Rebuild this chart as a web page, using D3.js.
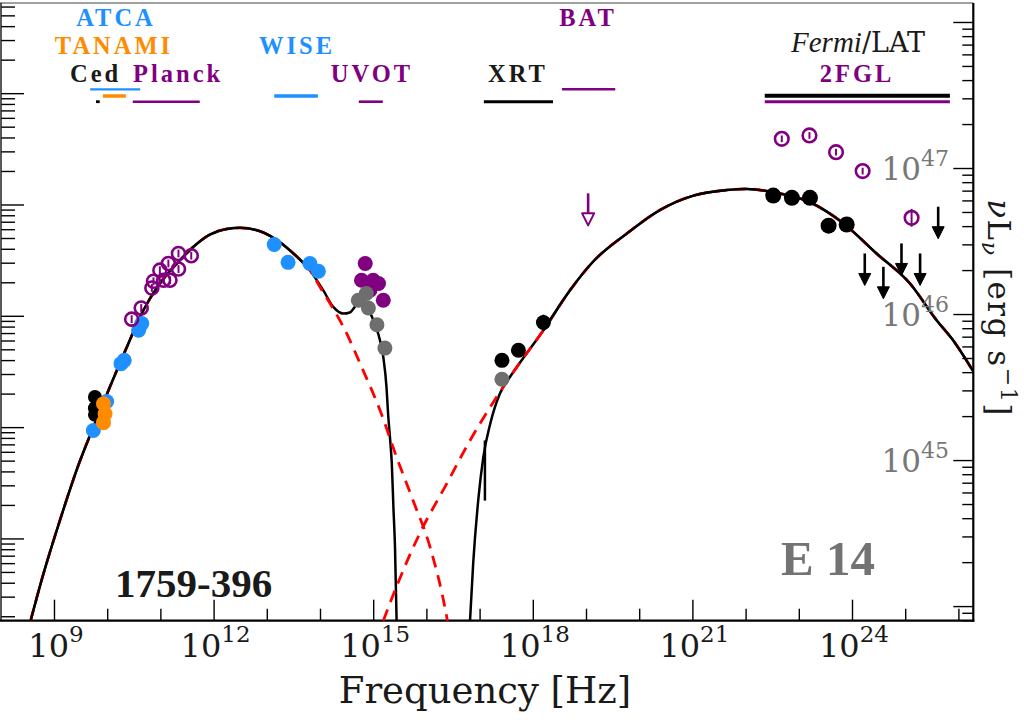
<!DOCTYPE html>
<html>
<head>
<meta charset="utf-8">
<script src="https://cdn.jsdelivr.net/npm/d3@7"></script>
<style>
  body { margin: 0; background: #fff; }
  svg { display: block; }
</style>
</head>
<body>
<svg id="chart" width="1024" height="722"></svg>
<script>
// all values are log10: frequency in Hz, nuFnu in erg cm^-2 s^-1

// instrument bands shown at the top
const bandNames = ['ATCA', 'TANAMI', 'Ced', 'Planck', 'WISE', 'UVOT', 'XRT', 'BAT', 'Fermi', '2FGL'];
const bandLo = [9.68, 9.92, 9.79, 10.48, 13.14, 14.73, 17.08, 18.55, 22.36, 22.36];
const bandHi = [10.62, 10.35, 9.86, 11.74, 13.96, 15.18, 18.38, 19.55, 25.84, 25.84];

// measurements
const atcaNu = [9.74, 9.99, 10.26, 10.32, 10.59, 10.65];
const atcaF = [-13.03, -12.77, -12.43, -12.40, -12.13, -12.07];
const tanamiNu = [9.93, 9.96, 9.93];
const tanamiF = [-12.79, -12.88, -12.96];
const cedNu = [9.77, 9.77, 9.77];
const cedF = [-12.73, -12.83, -12.89];
const planckNu = [10.46, 10.64, 10.84, 10.87, 10.99, 11.06, 11.18, 11.15, 11.34, 11.34, 11.58];
const planckF = [-12.03, -11.93, -11.75, -11.69, -11.59, -11.68, -11.68, -11.53, -11.58, -11.44, -11.46];
const wiseNu = [13.14, 13.40, 13.81, 13.97];
const wiseF = [-11.36, -11.52, -11.53, -11.60];
const uvotNu = [14.85, 14.78, 15.00, 15.10, 14.94, 15.19];
const uvotF = [-11.53, -11.68, -11.68, -11.71, -11.77, -11.86];
const uvotHostNu = [14.72, 14.87, 14.91, 15.07, 15.22];
const uvotHostF = [-11.86, -11.80, -11.93, -12.08, -12.29];
const xrtNu = [17.42, 17.73, 18.20];
const xrtF = [-12.40, -12.31, -12.06];
const xrtErr = [0.03, 0.03, 0.07];
const xrtHostNu = [17.42];
const xrtHostF = [-12.57];
const batUlNu = [19.04];
const batUlF = [-10.90];
const latNu = [22.52, 22.87, 23.21, 23.56, 23.90];
const latF = [-10.92, -10.94, -10.94, -11.19, -11.18];
const latErr = [0.04, 0.04, 0.04, 0.04, 0.04];
const latUlNu = [24.24, 24.59, 24.93, 25.28, 25.62];
const latUlF = [-11.44, -11.56, -11.35, -11.44, -11.02];
const fglNu = [22.68, 23.20, 23.70, 24.20, 25.12];
const fglF = [-10.41, -10.38, -10.53, -10.70, -11.12];
const fglErr = [0.03, 0.03, 0.03, 0.03, 0.08];
const planckErr = 0.035;

// model curves
const syncNu = [8.56, 8.77, 9.11, 9.46, 9.74, 10.05, 10.37, 10.68, 10.99, 11.31, 11.62, 11.93, 12.25, 12.50,
  12.87, 13.19, 13.50, 13.81, 14.06, 14.19, 14.44, 14.81, 15.13, 15.44, 15.75, 16.07, 16.38, 16.41];
const syncF = [-14.74, -14.37, -13.84, -13.34, -13.00, -12.64, -12.28, -11.95, -11.71, -11.53, -11.38, -11.27, -11.22, -11.21,
  -11.24, -11.32, -11.44, -11.59, -11.79, -11.89, -12.10, -12.49, -12.85, -13.27, -13.66, -14.08, -14.70, -14.78];
const lowTotNu = [8.56, 8.77, 9.11, 9.46, 9.74, 10.05, 10.37, 10.68, 10.99, 11.31, 11.62, 11.93, 12.25, 12.50,
  12.87, 13.19, 13.50, 13.81, 14.06, 14.25, 14.44, 14.56, 14.69, 14.79, 14.94, 15.10, 15.19, 15.25, 15.28, 15.32, 15.35, 15.38, 15.41, 15.44];
const lowTotF = [-14.74, -14.37, -13.84, -13.34, -13.00, -12.64, -12.28, -11.95, -11.71, -11.53, -11.38, -11.27, -11.22, -11.21,
  -11.24, -11.32, -11.44, -11.59, -11.77, -11.92, -11.98, -11.97, -11.90, -11.87, -11.97, -12.17, -12.37, -12.64, -12.88, -13.12, -13.33, -13.72, -14.08, -14.74];
const icNu = [15.19, 15.44, 15.88, 16.38, 16.82, 17.32, 17.70, 18.20, 18.70, 19.14, 19.77, 20.39, 21.02, 21.65,
  22.02, 22.52, 23.21, 23.84, 24.46, 25.09, 25.59, 25.90, 26.28];
const icF = [-14.74, -14.43, -13.95, -13.51, -13.12, -12.73, -12.46, -12.13, -11.77, -11.51, -11.26, -11.05, -10.92, -10.87,
  -10.86, -10.89, -10.98, -11.17, -11.44, -11.71, -12.04, -12.22, -12.50];
const highRiseNu = [16.82, 16.88, 16.98, 17.07, 17.20, 17.38, 17.57, 17.76];
const highRiseF = [-14.74, -14.22, -13.63, -13.27, -12.97, -12.70, -12.55, -12.42];
const stubNu = [17.10, 17.10];
const stubF = [-13.12, -13.66];

// luminosity axis labels (right side) and frequency labels
const lumLabels = [45, 46, 47];
const freqLabels = [9, 12, 15, 18, 21, 24];

// ---------- drawing ----------
// the upright regular Liberation Serif face is missing here, so plain text uses DejaVu Serif
const BOLD = 'Liberation Serif';
const REG = 'DejaVu Serif';
const BLUE = '#1e90ff', ORANGE = '#ff8c00', PURPLE = '#800080', GREY = '#6e6e6e', RED = '#ff0000', INK = '#1a1a1a';
const plot = { left: 1, right: 973.3, top: 3, bottom: 620.7 };
const svg = d3.select('#chart');

const x = d3.scaleLog().domain([Math.pow(10, 8.004), Math.pow(10, 26.28)]).range([plot.left, plot.right]);
const y = d3.scaleLog().domain([Math.pow(10, -14.739), Math.pow(10, -9.19)]).range([plot.bottom, plot.top]);
const yL = d3.scaleLog().domain([Math.pow(10, 43.9), Math.pow(10, 48.13)]).range([plot.bottom, plot.top]);
const X = v => x(Math.pow(10, v));
const Y = v => y(Math.pow(10, v));
const pairs = (a, b) => a.map((v, i) => [v, b[i]]);
const isDecade = v => Math.abs(Math.log10(v) - Math.round(Math.log10(v))) < 1e-6;

svg.append('defs').append('clipPath').attr('id', 'clip')
  .append('rect').attr('x', plot.left).attr('y', plot.top)
  .attr('width', plot.right - plot.left).attr('height', plot.bottom - plot.top);

// ticks
const tickGroup = (axis, tx, ty) => {
  const g = svg.append('g').attr('transform', `translate(${tx},${ty})`).call(axis);
  g.select('.domain').remove();
  g.selectAll('line').attr('stroke', '#000').attr('stroke-width', 1.4);
  g.selectAll('text').remove();
  return g;
};
const decades = d3.range(9, 27).map(p => Math.pow(10, p));
tickGroup(d3.axisTop(x).tickValues(decades.filter((d, i) => (i % 3) === 0)).tickSize(21).tickFormat(''), 0, plot.bottom);
tickGroup(d3.axisTop(x).tickValues(decades.filter((d, i) => (i % 3) !== 0)).tickSize(12).tickFormat(''), 0, plot.bottom);

const fTicks = y.ticks(60);
tickGroup(d3.axisRight(y).tickValues(fTicks.filter(isDecade)).tickSize(23).tickFormat(''), plot.left, 0);
tickGroup(d3.axisRight(y).tickValues(fTicks.filter(v => !isDecade(v))).tickSize(14).tickFormat(''), plot.left, 0);

const lTicks = yL.ticks(60);
tickGroup(d3.axisLeft(yL).tickValues(lTicks.filter(isDecade)).tickSize(20).tickFormat(''), plot.right, 0);
tickGroup(d3.axisLeft(yL).tickValues(lTicks.filter(v => !isDecade(v))).tickSize(11).tickFormat(''), plot.right, 0);

// frame
svg.append('line').attr('x1', 0).attr('x2', plot.right).attr('y1', plot.top).attr('y2', plot.top)
  .attr('stroke', '#444').attr('stroke-width', 1.2);
svg.append('line').attr('x1', plot.left).attr('x2', plot.left).attr('y1', plot.top).attr('y2', plot.bottom)
  .attr('stroke', '#222').attr('stroke-width', 1.5);
svg.append('line').attr('x1', 0).attr('x2', plot.right + 1).attr('y1', plot.bottom).attr('y2', plot.bottom)
  .attr('stroke', '#000').attr('stroke-width', 2.2);
svg.append('line').attr('x1', plot.right).attr('x2', plot.right).attr('y1', plot.top).attr('y2', plot.bottom + 1)
  .attr('stroke', '#000').attr('stroke-width', 2.2);

// model curves
const line = d3.line().x(d => X(d[0])).y(d => Y(d[1])).curve(d3.curveMonotoneX);
const curves = svg.append('g').attr('clip-path', 'url(#clip)');
const highTot = pairs(highRiseNu, highRiseF).concat(pairs(icNu, icF).filter(d => d[0] > 18));
[pairs(lowTotNu, lowTotF), highTot, pairs(stubNu, stubF)].forEach(pts => {
  curves.append('path').attr('d', line(pts)).attr('fill', 'none')
    .attr('stroke', '#000').attr('stroke-width', 2.5);
});
[pairs(syncNu, syncF), pairs(icNu, icF)].forEach(pts => {
  curves.append('path').attr('d', line(pts)).attr('fill', 'none')
    .attr('stroke', RED).attr('stroke-width', 2.8).attr('stroke-dasharray', '12,8');
});
// black drawn again where the components coincide with the total
curves.append('path').attr('d', line(pairs(lowTotNu, lowTotF).filter(d => d[0] < 13.9)))
  .attr('fill', 'none').attr('stroke', '#000').attr('stroke-width', 2.3);
curves.append('path').attr('d', line(pairs(icNu, icF).filter(d => d[0] > 18.1)))
  .attr('fill', 'none').attr('stroke', '#000').attr('stroke-width', 2.3);

// data points
const marks = svg.append('g');
const errBars = (nu, f, err, color, w) => {
  marks.selectAll(null).data(pairs(nu, f).map((d, i) => [d[0], d[1], Array.isArray(err) ? err[i] : err]))
    .join('line')
    .attr('x1', d => X(d[0])).attr('x2', d => X(d[0]))
    .attr('y1', d => Y(d[1] - d[2])).attr('y2', d => Y(d[1] + d[2]))
    .attr('stroke', color).attr('stroke-width', w);
};
const filled = (nu, f, color, r) => {
  marks.selectAll(null).data(pairs(nu, f)).join('circle')
    .attr('cx', d => X(d[0])).attr('cy', d => Y(d[1])).attr('r', r).attr('fill', color);
};
const open = (nu, f, err, color, r) => {
  marks.selectAll(null).data(pairs(nu, f)).join('circle')
    .attr('cx', d => X(d[0])).attr('cy', d => Y(d[1])).attr('r', r)
    .attr('fill', 'none').attr('stroke', color).attr('stroke-width', 2.6);
  errBars(nu, f, err, color, 2);
};
const upper = (nu, f, color, hollow) => {
  const len = 32, hw = 6, hh = 12;
  const g = marks.selectAll(null).data(pairs(nu, f)).join('g')
    .attr('transform', d => `translate(${X(d[0])},${Y(d[1])})`);
  g.append('line').attr('x1', 0).attr('x2', 0).attr('y1', 0).attr('y2', len - hh + 1)
    .attr('stroke', color).attr('stroke-width', 2.6);
  g.append('path').attr('d', `M${-hw},${len - hh}L${hw},${len - hh}L0,${len}Z`)
    .attr('fill', hollow ? '#fff' : color).attr('stroke', color)
    .attr('stroke-width', hollow ? 2 : 1).attr('stroke-linejoin', 'round');
};

filled(atcaNu, atcaF, BLUE, 7.5);
filled(cedNu, cedF, '#000', 7);
filled(tanamiNu, tanamiF, ORANGE, 7.5);
open(planckNu, planckF, planckErr, PURPLE, 6.5);
filled(wiseNu, wiseF, BLUE, 7.5);
filled(uvotNu, uvotF, PURPLE, 7.5);
filled(uvotHostNu, uvotHostF, GREY, 7.5);
errBars(xrtNu, xrtF, xrtErr, '#000', 2);
filled(xrtNu, xrtF, '#000', 7.5);
filled(xrtHostNu, xrtHostF, GREY, 7.5);
upper(batUlNu, batUlF, PURPLE, true);
errBars(latNu, latF, latErr, '#000', 2);
filled(latNu, latF, '#000', 8);
upper(latUlNu, latUlF, '#000', false);
open(fglNu, fglF, fglErr, PURPLE, 6.8);

// instrument bands and names
const bandStyle = {
  ATCA: { row: 89.3, c: BLUE, w: 2.2 }, TANAMI: { row: 96, c: ORANGE, w: 3.5 },
  Ced: { row: 101.7, c: '#000', w: 2.8 }, Planck: { row: 101.7, c: PURPLE, w: 2.6 },
  WISE: { row: 96, c: BLUE, w: 3.5 }, UVOT: { row: 101.7, c: PURPLE, w: 2.6 },
  XRT: { row: 101.7, c: '#000', w: 3 }, BAT: { row: 89.3, c: PURPLE, w: 2.6 },
  Fermi: { row: 95.7, c: '#000', w: 4 }, '2FGL': { row: 101.7, c: PURPLE, w: 3 }
};
svg.append('g').selectAll('line').data(bandNames).join('line')
  .attr('x1', (d, i) => X(bandLo[i])).attr('x2', (d, i) => X(bandHi[i]))
  .attr('y1', d => bandStyle[d].row).attr('y2', d => bandStyle[d].row)
  .attr('stroke', d => bandStyle[d].c).attr('stroke-width', d => bandStyle[d].w);

const nameLayout = [
  { t: 'ATCA', x: 116, y: 26, c: BLUE, a: 'middle' },
  { t: 'TANAMI', x: 114, y: 54, c: ORANGE, a: 'middle' },
  { t: 'WISE', x: 297, y: 54, c: BLUE, a: 'middle' },
  { t: 'Ced', x: 70, y: 81.5, c: INK, a: 'start' },
  { t: 'Planck', x: 133, y: 81.5, c: PURPLE, a: 'start' },
  { t: 'UVOT', x: 372, y: 81.5, c: PURPLE, a: 'middle' },
  { t: 'XRT', x: 518, y: 81.5, c: INK, a: 'middle' },
  { t: 'BAT', x: 588, y: 26, c: PURPLE, a: 'middle' },
  { t: '2FGL', x: 857, y: 81.5, c: PURPLE, a: 'middle' }
];
svg.append('g').selectAll('text').data(nameLayout).join('text')
  .attr('x', d => d.x).attr('y', d => d.y).attr('text-anchor', d => d.a)
  .attr('font-family', BOLD).attr('fill', d => d.c).attr('font-size', 24.5).attr('font-weight', 'bold')
  .attr('letter-spacing', 3).text(d => d.t);
const fermi = svg.append('text').attr('x', 858).attr('y', 52).attr('text-anchor', 'middle')
  .attr('fill', INK).attr('font-size', 27);
fermi.append('tspan').attr('font-family', BOLD).attr('font-style', 'italic').attr('font-size', 29).text('Fermi');
fermi.append('tspan').attr('font-family', REG).text('/LAT');

// tick labels
const fl = svg.append('g').selectAll('text').data(freqLabels).join('text')
  .attr('x', d => X(d) + 2).attr('y', 657).attr('text-anchor', 'middle')
  .attr('font-family', REG).attr('fill', INK);
fl.append('tspan').attr('font-size', 32).text('10');
fl.append('tspan').attr('font-size', 23).attr('dy', -15).text(d => d);

const ll = svg.append('g').selectAll('text').data(lumLabels).join('text')
  .attr('x', 949).attr('y', d => yL(Math.pow(10, d)) + 12).attr('text-anchor', 'end')
  .attr('font-family', REG).attr('fill', '#777');
ll.append('tspan').attr('font-size', 31).text('10');
ll.append('tspan').attr('font-size', 22).attr('dy', -14).text(d => d);

// axis titles and annotations
svg.append('text').attr('x', 485).attr('y', 703).attr('text-anchor', 'middle')
  .attr('font-family', REG).attr('font-size', 37).attr('fill', INK).text('Frequency [Hz]');

const yt = svg.append('text').attr('transform', 'translate(988,308) rotate(90)')
  .attr('text-anchor', 'middle').attr('font-family', REG).attr('font-size', 31)
  .attr('fill', INK).attr('letter-spacing', 1.5);
yt.append('tspan').attr('font-style', 'italic').text('ν');
yt.append('tspan').text('L');
yt.append('tspan').attr('font-style', 'italic').attr('font-size', 22).attr('dy', 6).text('ν');
yt.append('tspan').attr('dy', -6).text(' [erg s');
yt.append('tspan').attr('font-size', 22).attr('dy', -13).text('−1');
yt.append('tspan').attr('dy', 13).text(']');

svg.append('text').attr('x', 115).attr('y', 597).attr('font-family', BOLD).attr('font-size', 41)
  .attr('font-weight', 'bold').attr('fill', INK).text('1759-396');
svg.append('text').attr('x', 781).attr('y', 575).attr('font-family', BOLD).attr('font-size', 49)
  .attr('font-weight', 'bold').attr('fill', '#737373').text('E 14');
</script>
</body>
</html>
